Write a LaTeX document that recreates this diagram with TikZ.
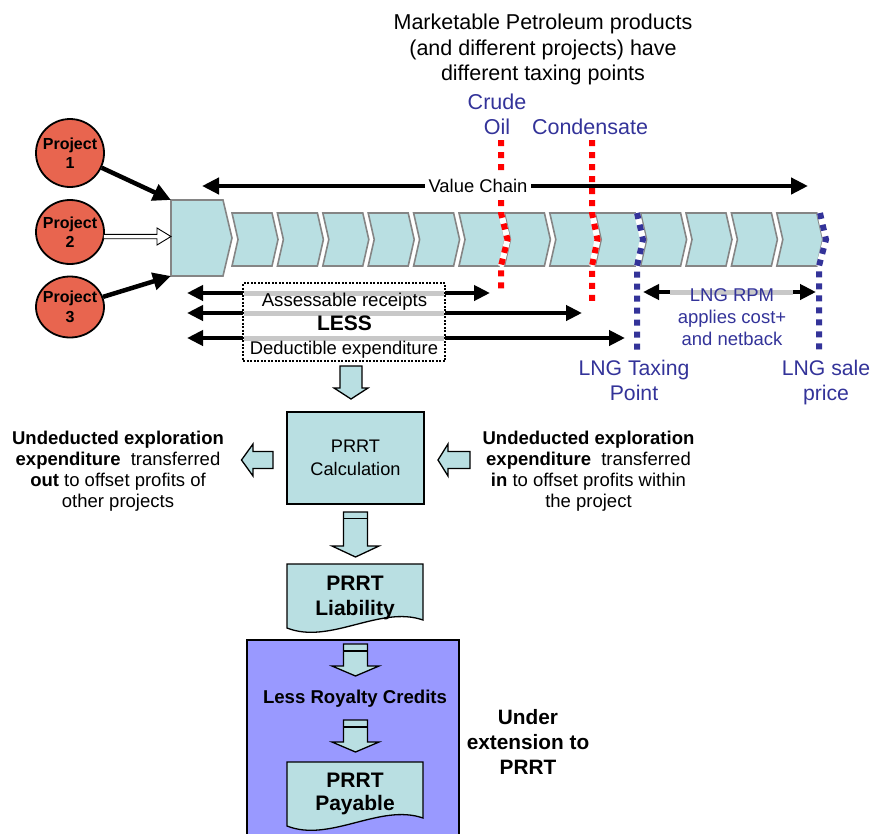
\documentclass[tikz,border=0pt]{standalone}
\usepackage{fontspec}
\setmainfont{Liberation Sans}
\usetikzlibrary{arrows.meta,shapes.geometric,calc}

\definecolor{chainfill}{HTML}{B9DFE2}
\definecolor{chainedge}{HTML}{858585}
\definecolor{projfill}{HTML}{E8654F}
\definecolor{pointblue}{HTML}{333399}
\definecolor{extfill}{HTML}{9999FF}
\definecolor{passgray}{HTML}{C8C8C8}

\newcommand\fsz[2]{\fontsize{#1}{#2}\selectfont}

% block arrow pointing down: x, top, head base, tip, shaft half-width, head half-width
\newcommand\downblock[6]{%
  \draw[blockarrow] (#1-#5,#2) -- (#1+#5,#2) -- (#1+#5,#3) -- (#1+#6,#3) -- (#1,#4)
    -- (#1-#6,#3) -- (#1-#5,#3) -- cycle;}
% the same with a band across the shaft at height #7
\newcommand\downband[7]{%
  \downblock{#1}{#2}{#3}{#4}{#5}{#6}%
  \draw[blockarrow] (#1-#5,#7) -- (#1+#5,#7);}
% block arrow pointing left: tip x, y, head base x, tail x, shaft half-width, head half-width
\newcommand\leftblock[6]{%
  \draw[blockarrow] (#1,#2) -- (#3,#2-#6) -- (#3,#2-#5) -- (#4,#2-#5) -- (#4,#2+#5)
    -- (#3,#2+#5) -- (#3,#2+#6) -- cycle;}
% document box with a wavy lower edge, top at #1
\newcommand\docbox[1]{%
  \draw[docstyle] (287,#1) -- (423,#1) -- (423,#1+56)
    .. controls (380,#1+41) and (330,#1+81) .. (287,#1+64) -- cycle;}

\begin{document}
\begin{tikzpicture}[x=1pt,y=-1pt,
  chainbox/.style={fill=chainfill,draw=chainedge,line width=1.6pt,line join=miter},
  project/.style={ellipse,draw=black,fill=projfill,line width=1.8pt,minimum width=68pt,inner sep=0pt},
  projtext/.style={align=center,font=\bfseries\fsz{16}{19.5},inner sep=0pt},
  heavyarrow/.style={line width=4.5pt,-{Triangle[length=18pt,width=17pt]}},
  chainarrow/.style={line width=4.5pt,{Triangle[length=17pt,width=16pt]}-{Triangle[length=17pt,width=16pt]}},
  spanarrow/.style={line width=4pt,{Triangle[length=16pt,width=15pt]}-{Triangle[length=16pt,width=15pt]}},
  passline/.style={draw=passgray,line width=5pt},
  redpoint/.style={draw=red,line width=6pt,dash pattern=on 6pt off 6pt},
  bluepoint/.style={draw=pointblue,line width=6pt,dash pattern=on 6pt off 6pt},
  underlay/.style={draw=white,line width=6pt},
  blockarrow/.style={fill=chainfill,draw=black,line width=1.3pt,line join=miter},
  docstyle/.style={fill=chainfill,draw=black,line width=1.3pt},
  bluetext/.style={text=pointblue,align=center,inner sep=0pt},
  plain/.style={align=center,inner sep=0pt}
]
\useasboundingbox (0,0) rectangle (872,833);

% ---- value chain ----
\draw[chainbox] (171,200) -- (223,200) -- (232,238) -- (223,276) -- (171,276) -- cycle;
\coordinate (hubTL) at (171,200);
\coordinate (hubW) at (171,236.5);
\coordinate (hubBL) at (171,276);
\foreach \i in {0,...,12}{
  \pgfmathsetmacro\xo{232+45.4*\i}
  \draw[chainbox] (\xo,213) -- ++(40,0) -- ++(6,26.5) -- ++(-6,26.5) -- ++(-40,0) -- ++(6,-26.5) -- cycle;
}

\coordinate (vcL) at (202,186);
\coordinate (vcR) at (808,186);
\draw[chainarrow] (vcL) -- (vcR);

% taxing points
\draw[underlay] (501,213) -- (507.5,239.5) -- (501,266);
\draw[redpoint] (501,140) -- (501,213) -- (507.5,239.5) -- (501,266) -- (501,292);
\draw[underlay] (592,213) -- (597.5,239.5) -- (592,266);
\draw[redpoint] (592,140) -- (592,213) -- (597.5,239.5) -- (592,266) -- (592,304);
\draw[underlay] (637,213) -- (643,239.5) -- (637,266);
\draw[bluepoint] (637,213) -- (643,239.5) -- (637,266) -- (637,354);
\draw[underlay] (820,213) -- (826,239.5) -- (819,266);
\draw[bluepoint] (820,213) -- (826,239.5) -- (819,266) -- (819,354);

\node[fill=white,inner xsep=4pt,inner ysep=4pt,font=\fsz{18.4}{21}] (vclabel) at (478,186) {Value Chain};

% ---- projects ----
\node[project,minimum height=68pt] (p1) at (70,153) {};
\node[project,minimum height=64pt] (p2) at (70,232) {};
\node[project,minimum height=61pt] (p3) at (70,307) {};
\node[projtext] (p1t) at (p1) {Project\\1};
\node[projtext] (p2t) at (p2) {Project\\2};
\node[projtext] (p3t) at (p3) {Project\\3};

\draw[heavyarrow] (p1) -- (hubTL);
\draw[heavyarrow] (p3) -- (hubBL);
\coordinate (p2s) at (p2.east |- hubW);
\draw[fill=white,line width=0.9pt,line join=miter]
  ($(p2s)+(-1,-2.2)$) -- ($(hubW)+(-14,-2.2)$) -- ($(hubW)+(-14,-8.5)$) -- (hubW)
  -- ($(hubW)+(-14,8.5)$) -- ($(hubW)+(-14,2.2)$) -- ($(p2s)+(-1,2.2)$);

% ---- receipts / expenditure spans ----
\coordinate (s1L) at (187,293);   \coordinate (s1R) at (490,293);
\coordinate (s2L) at (187,313);   \coordinate (s2R) at (582,313);
\coordinate (s3L) at (187,338);   \coordinate (s3R) at (625,338);
\draw[spanarrow] (s1L) -- (s1R);
\draw[spanarrow] (s2L) -- (s2R);
\draw[spanarrow] (s3L) -- (s3R);
\node[draw=black,fill=white,line width=1.8pt,dash pattern=on 2pt off 1.5pt,
      minimum width=202pt,minimum height=78pt,inner sep=0pt] (rbox) at (344,322) {};
\draw[passline,shorten <=1.5pt,shorten >=1.5pt] (rbox.west |- s1L) -- (rbox.east |- s1L);
\draw[passline,shorten <=1.5pt,shorten >=1.5pt] (rbox.west |- s2L) -- (rbox.east |- s2L);
\draw[passline,shorten <=1.5pt,shorten >=1.5pt] (rbox.west |- s3L) -- (rbox.east |- s3L);
\node[plain,font=\fsz{18.6}{21},anchor=base] (receipts) at (344.5,306) {Assessable receipts};
\node[plain,font=\bfseries\fsz{21}{24},anchor=base] (less) at (344.5,330.3) {LESS};
\node[plain,font=\fsz{18.4}{21},anchor=base] (deduct) at (344,354) {Deductible expenditure};

% ---- LNG pricing ----
\coordinate (rpmL) at (643,292);
\coordinate (rpmR) at (816,292);
\draw[spanarrow] (rpmL) -- (rpmR);
\draw[passline] (670,292) -- (793,292);
\node[bluetext,font=\fsz{18.5}{22}] (rpm) at (732,317) {LNG RPM\\applies cost+\\and netback};
\node[bluetext,font=\fsz{21.2}{25}] (lngtax) at (634,380.5) {LNG Taxing\\Point};
\node[bluetext,font=\fsz{21.2}{25}] (lngsale) at (826,382.7) {LNG sale\\price};

% ---- headings ----
\node[plain,font=\fsz{21.5}{25.5}] (title) at (543,49.7)
  {Marketable Petroleum products\\(and different projects) have\\different taxing points};
\node[bluetext,font=\fsz{21.5}{25.3}] (crude) at (497,114.5) {Crude\\Oil};
\node[bluetext,font=\fsz{21.5}{25.3},anchor=base] (cond) at (590,134.7) {Condensate};

% ---- PRRT calculation ----
\downblock{351}{366}{388}{399}{11}{17}
\node[draw=black,fill=chainfill,line width=1.5pt,minimum width=137pt,minimum height=92pt,
      inner sep=0pt,align=center,font=\fsz{18.2}{23.4}] (calc) at (355.5,458) {PRRT\\Calculation};
\leftblock{241.5}{460}{253}{273}{8.5}{16}
\leftblock{438}{460}{448}{470}{8.5}{16}
\node[plain,font=\fsz{18.5}{21}] (outtext) at (118,471)
  {\bfseries Undeducted exploration\\{\bfseries expenditure}\ \ transferred\\{\bfseries out} to offset profits of\\other projects};
\node[plain,font=\fsz{18.5}{21}] (intext) at (588.5,471)
  {\bfseries Undeducted exploration\\{\bfseries expenditure}\ \ transferred\\{\bfseries in} to offset profits within\\the project};

\downband{355.5}{512}{546}{557}{12}{23.5}{518.5}
\docbox{564}
\node[plain,font=\bfseries\fsz{21}{25}] (liab) at (355,597.7) {PRRT\\Liability};

% ---- extension ----
\draw[fill=extfill,draw=black,line width=1.5pt] (247,640) rectangle (459,850);
\downband{355.5}{644}{666}{676}{12}{23.5}{651}
\node[plain,font=\bfseries\fsz{18.6}{21},anchor=base] (royalty) at (355,703.7) {Less Royalty Credits};
\downband{355.5}{720}{742}{752}{12}{23.5}{727}
\docbox{762}
\node[plain,font=\bfseries\fsz{21}{23.5}] (payable) at (355,793.7) {PRRT\\Payable};
\node[plain,font=\bfseries\fsz{20.8}{25}] (ext) at (528,742) {Under\\extension to\\PRRT};
\end{tikzpicture}
\end{document}
